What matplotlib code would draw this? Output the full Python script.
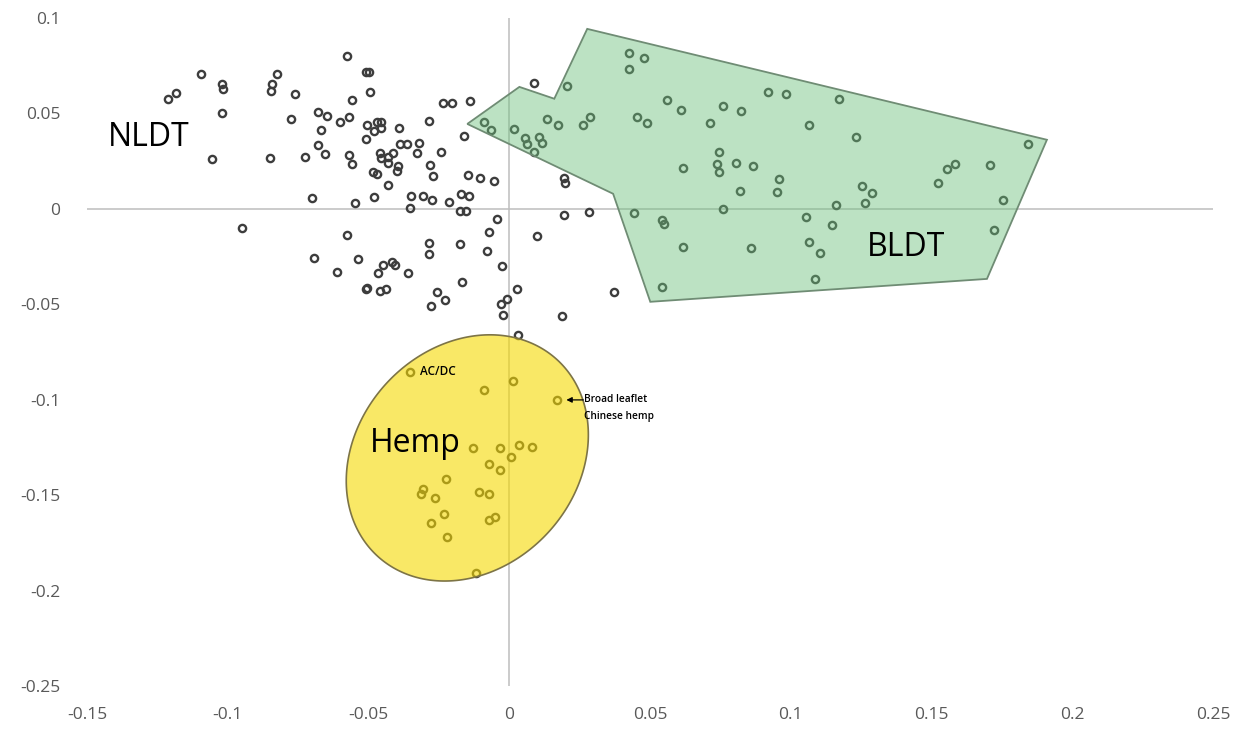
import numpy as np
import matplotlib
matplotlib.use("Agg")
import matplotlib.pyplot as plt
from matplotlib.patches import Polygon

# ---------------- data ----------------
# all accessions (PC1, PC2)
pc1 = [
    -0.1214, -0.1183, -0.1094, -0.1019, -0.1016, -0.1019, -0.1055, -0.0824, -0.0842, -0.0845,
    -0.0760, -0.0774, -0.0849, -0.0948, -0.0575, -0.0508, -0.0497, -0.0494, -0.0558, -0.0678,
    -0.0646, -0.0600, -0.0568, -0.0668, -0.0504, -0.0469, -0.0455, -0.0479, -0.0455, -0.0391,
    -0.0508, -0.0678, -0.0724, -0.0653, -0.0568, -0.0558, -0.0458, -0.0455, -0.0430, -0.0412,
    -0.0430, -0.0387, -0.0362, -0.0320, -0.0327, -0.0394, -0.0398, -0.0483, -0.0469, -0.0430,
    -0.0284, -0.0234, -0.0202, -0.0138, -0.0160, -0.0241, -0.0281, -0.0270, -0.0146, -0.0103,
    -0.0053, -0.0700, -0.0547, -0.0479, -0.0348, -0.0305, -0.0273, -0.0352, -0.0213, -0.0170,
    -0.0142, -0.0174, -0.0153, -0.0043, -0.0071, -0.0575, -0.0284, -0.0284, -0.0174, -0.0078,
    -0.0025, -0.0692, -0.0536, -0.0611, -0.0447, -0.0415, -0.0405, -0.0465, -0.0359, -0.0167,
    -0.0508, -0.0504, -0.0458, -0.0437, -0.0256, -0.0227, -0.0277, -0.0028, -0.0007, -0.0021,
    0.0032, 0.0028, 0.0188, 0.0373, 0.0099, 0.0195, 0.0284, 0.0195, 0.0199, 0.0089,
    # BLDT
    -0.0089, -0.0064, 0.0018, 0.0057, 0.0064, 0.0107, 0.0117, 0.0089, 0.0135, 0.0174,
    0.0263, 0.0288, 0.0206, 0.0426, 0.0479, 0.0426, 0.0455, 0.0490, 0.0444, 0.0561,
    0.0611, 0.0714, 0.0760, 0.0824, 0.0920, 0.0984, 0.1172, 0.1065, 0.1232, 0.0746,
    0.0739, 0.0746, 0.0806, 0.0866, 0.0618, 0.0959, 0.0952, 0.0820, 0.0760, 0.0543,
    0.0550, 0.0618, 0.0859, 0.1055, 0.1147, 0.1065, 0.1104, 0.1087, 0.0543, 0.1161,
    0.1254, 0.1289, 0.1264, 0.1843, 0.1555, 0.1584, 0.1523, 0.1708, 0.1754, 0.1722,
    # Hemp
    -0.0352, 0.0014, -0.0089, 0.0170, -0.0128, -0.0032, 0.0036, 0.0082, 0.0007, -0.0071,
    -0.0032, -0.0224, -0.0305, -0.0312, -0.0263, -0.0107, -0.0071, -0.0231, -0.0277, -0.0071,
    -0.0050, -0.0220, -0.0117,
]
pc2 = [
    0.0577, 0.0608, 0.0708, 0.0655, 0.0629, 0.0503, 0.0262, 0.0708, 0.0655, 0.0618,
    0.0603, 0.0472, 0.0267, -0.0100, 0.0802, 0.0718, 0.0718, 0.0613, 0.0571, 0.0508,
    0.0487, 0.0456, 0.0482, 0.0414, 0.0440, 0.0456, 0.0456, 0.0409, 0.0425, 0.0425,
    0.0367, 0.0335, 0.0273, 0.0288, 0.0283, 0.0236, 0.0293, 0.0267, 0.0273, 0.0293,
    0.0241, 0.0341, 0.0341, 0.0346, 0.0293, 0.0225, 0.0199, 0.0194, 0.0183, 0.0126,
    0.0461, 0.0556, 0.0556, 0.0566, 0.0383, 0.0299, 0.0231, 0.0173, 0.0178, 0.0162,
    0.0147, 0.0058, 0.0031, 0.0063, 0.0068, 0.0068, 0.0047, 0.0005, 0.0037, 0.0079,
    0.0068, -0.0010, -0.0010, -0.0052, -0.0121, -0.0136, -0.0178, -0.0236, -0.0183, -0.0220,
    -0.0299, -0.0257, -0.0262, -0.0330, -0.0293, -0.0278, -0.0293, -0.0335, -0.0335, -0.0383,
    -0.0419, -0.0414, -0.0430, -0.0419, -0.0435, -0.0477, -0.0508, -0.0498, -0.0472, -0.0556,
    -0.0660, -0.0419, -0.0561, -0.0435, -0.0142, -0.0031, -0.0016, 0.0162, 0.0136, 0.0660,
    # BLDT
    0.0456, 0.0414, 0.0419, 0.0372, 0.0341, 0.0377, 0.0346, 0.0299, 0.0472, 0.0440,
    0.0440, 0.0482, 0.0645, 0.0818, 0.0791, 0.0734, 0.0482, 0.0451, -0.0021, 0.0571,
    0.0519, 0.0451, 0.0540, 0.0514, 0.0613, 0.0603, 0.0577, 0.0440, 0.0377, 0.0299,
    0.0236, 0.0194, 0.0241, 0.0225, 0.0215, 0.0157, 0.0089, 0.0094, 0.0000, -0.0058,
    -0.0079, -0.0199, -0.0204, -0.0042, -0.0084, -0.0173, -0.0231, -0.0367, -0.0409, 0.0021,
    0.0121, 0.0084, 0.0031, 0.0341, 0.0210, 0.0236, 0.0136, 0.0231, 0.0047, -0.0110,
    # Hemp
    -0.0854, -0.0901, -0.0949, -0.1001, -0.1253, -0.1253, -0.1237, -0.1247, -0.1300, -0.1336,
    -0.1368, -0.1415, -0.1468, -0.1494, -0.1515, -0.1483, -0.1494, -0.1599, -0.1646, -0.1630,
    -0.1614, -0.1719, -0.1908,
]

# BLDT hull outline (vertices)
bldt_x = [-0.0149, 0.0036, 0.0160, 0.0277, 0.1910, 0.1697, 0.0501, 0.0369]
bldt_y = [0.0445, 0.0639, 0.0577, 0.0943, 0.0362, -0.0367, -0.0487, 0.0079]

# Hemp ellipse (centre, half width, half height, shear term)
hemp_cx, hemp_cy = -0.0149, -0.1305
hemp_w, hemp_h = 0.0430, 0.0645
hemp_cov = 0.00052

x_ticks = [-0.15, -0.1, -0.05, 0, 0.05, 0.1, 0.15, 0.2, 0.25]
x_ticklabels = ["-0.15", "-0.1", "-0.05", "0", "0.05", "0.1", "0.15", "0.2", "0.25"]
y_ticks = [-0.25, -0.2, -0.15, -0.1, -0.05, 0, 0.05, 0.1]
y_ticklabels = ["-0.25", "-0.2", "-0.15", "-0.1", "-0.05", "0", "0.05", "0.1"]

# ---------------- figure ----------------
plt.rcParams['font.family'] = ['Open Sans', 'DejaVu Sans']
fig = plt.figure(figsize=(12.42, 7.34), dpi=100)
ax = fig.add_axes([87 / 1242, 1 - 686 / 734, 1126 / 1242, 668 / 734])
ax.set_xlim(-0.15, 0.25)
ax.set_ylim(-0.25, 0.1)
for s in ax.spines.values():
    s.set_visible(False)

ax.axhline(0, color='#bdbdbd', lw=1.1, zorder=1)
ax.axvline(0, color='#bdbdbd', lw=1.1, zorder=1)

ax.plot(pc1, pc2, linestyle='none', marker='o', markersize=5.2,
        markerfacecolor='none', markeredgecolor='#3d3d3d', markeredgewidth=1.7, zorder=2)

# BLDT polygon overlay
poly = Polygon(np.column_stack([bldt_x, bldt_y]), closed=True,
               facecolor=(0.42, 0.75, 0.48, 0.45), edgecolor='#6f8c74', lw=1.3, zorder=3)
ax.add_patch(poly)

# Hemp ellipse overlay
t = np.linspace(0, 2 * np.pi, 400)
l21 = hemp_cov / hemp_w
l22 = np.sqrt(hemp_h ** 2 - l21 ** 2)
ex = hemp_cx + hemp_w * np.cos(t)
ey = hemp_cy + l21 * np.cos(t) + l22 * np.sin(t)
ell = Polygon(np.column_stack([ex, ey]), closed=True,
              facecolor=(0.96, 0.85, 0.0, 0.6), edgecolor='#7d7446', lw=1.2, zorder=3)
ax.add_patch(ell)

# labels
ax.text(-0.1282, 0.0372, "NLDT", fontsize=23, ha='center', va='center', color='black', zorder=5)
ax.text(0.1410, -0.0204, "BLDT", fontsize=23, ha='center', va='center', color='black', zorder=5)
ax.text(-0.0334, -0.1232, "Hemp", fontsize=23, ha='center', va='center', color='black', zorder=5)
ax.text(-0.0318, -0.0854, "AC/DC", fontsize=8.5, fontweight='semibold', ha='left', va='center',
        color='black', zorder=5)
ax.annotate("", xy=(0.0193, -0.1001), xytext=(0.0263, -0.1001), zorder=5,
            arrowprops=dict(arrowstyle='-|>', color='black', lw=0.9, mutation_scale=8,
                            shrinkA=0, shrinkB=2))
ax.text(0.0266, -0.1001, "Broad leaflet", fontsize=7.3, fontweight='semibold', ha='left',
        va='center', color='black', zorder=5)
ax.text(0.0266, -0.1090, "Chinese hemp", fontsize=7.3, fontweight='semibold', ha='left',
        va='center', color='black', zorder=5)

ax.set_xticks(x_ticks)
ax.set_xticklabels(x_ticklabels)
ax.set_yticks(y_ticks)
ax.set_yticklabels(y_ticklabels)
ax.tick_params(axis='both', length=0, labelsize=12.5, labelcolor='#595959')
ax.tick_params(axis='x', pad=15)
ax.tick_params(axis='y', pad=19)

fig.savefig("out.png", dpi=100)
